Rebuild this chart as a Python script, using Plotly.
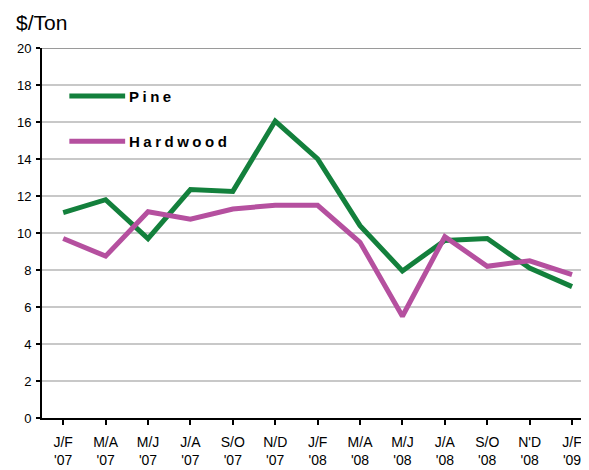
import plotly.graph_objects as go

categories = ["J/F<br>'07", "M/A<br>'07", "M/J<br>'07", "J/A<br>'07", "S/O<br>'07", "N/D<br>'07",
              "J/F<br>'08", "M/A<br>'08", "M/J<br>'08", "J/A<br>'08", "S/O<br>'08", "N'D<br>'08", "J/F<br>'09"]
pine = [11.1, 11.8, 9.7, 12.35, 12.25, 16.05, 14.0, 10.4, 7.95, 9.6, 9.7, 8.1, 7.1]
hardwood = [9.7, 8.75, 11.15, 10.75, 11.3, 11.5, 11.5, 9.5, 5.5, 9.8, 8.2, 8.5, 7.75]
y_ticks = [0, 2, 4, 6, 8, 10, 12, 14, 16, 18, 20]
series_names = ["Pine", "Hardwood"]
series_colors = ["#13803c", "#b5509f"]

FONT = "Liberation Sans, Arial, sans-serif"
x_idx = list(range(len(categories)))

fig = go.Figure()
for name, vals, col in zip(series_names, [pine, hardwood], series_colors):
    fig.add_trace(go.Scatter(x=x_idx, y=vals, mode="lines", name=name, showlegend=False,
                             line=dict(color=col, width=5)))

# white box behind legend hiding gridlines (between grid and traces)
fig.add_shape(type="rect", xref="paper", yref="y", x0=0.002, x1=0.402, y0=12.6, y1=19.6,
              fillcolor="white", line=dict(width=0), layer="between")
# darker top gridline
fig.add_shape(type="line", xref="paper", yref="y", x0=0, x1=1, y0=20, y1=20,
              line=dict(color="#9a9a9a", width=2), layer="between")

# custom legend (samples + labels) in paper coordinates
legend_y = [0.870, 0.748]
annotations = []
for name, col, ly in zip(series_names, series_colors, legend_y):
    fig.add_shape(type="line", xref="paper", yref="paper", x0=0.05, x1=0.152, y0=ly, y1=ly,
                  line=dict(color=col, width=5), layer="above")
    annotations.append(dict(text=name, xref="paper", yref="paper", x=0.155, y=ly,
                            xanchor="left", yanchor="middle", showarrow=False,
                            font=dict(family=FONT, size=15, color="black", weight="bold")))

annotations.append(dict(text="$/Ton", xref="paper", yref="paper", x=-0.052, y=1.07,
                        xanchor="left", yanchor="middle", showarrow=False,
                        font=dict(family=FONT, size=21, color="black")))

fig.update_layout(
    width=581, height=462,
    margin=dict(l=34, r=0, t=40, b=52),
    paper_bgcolor="white", plot_bgcolor="white",
    font=dict(family=FONT, color="black", size=13),
    showlegend=False,
    xaxis=dict(
        tickmode="array", tickvals=x_idx, ticktext=categories,
        range=[-0.5, 12.4], showgrid=False, zeroline=False,
        showline=True, linecolor="black", linewidth=2,
        ticks="outside", ticklen=5, tickwidth=2, tickcolor="black",
        tickson="boundaries", tickfont=dict(size=14), ticklabelstandoff=5,
    ),
    yaxis=dict(
        range=[0, 20], tickmode="array", tickvals=y_ticks,
        showgrid=True, gridcolor="#c8c8c8", gridwidth=2, zeroline=False,
        showline=True, linecolor="black", linewidth=2,
        ticks="outside", ticklen=4, tickwidth=2, tickcolor="black",
        tickfont=dict(size=13), ticklabelstandoff=2,
    ),
    annotations=annotations,
)

post = """
document.querySelectorAll('text.annotation-text').forEach(function(t){
  if (t.textContent === 'Pine' || t.textContent === 'Hardwood') {
    var b0 = t.getBBox();
    t.style.letterSpacing = '3.5px';
    var b1 = t.getBBox();
    var x = parseFloat(t.getAttribute('x') || '0');
    t.setAttribute('x', x + (b0.x - b1.x));
  }
});
"""
fig.write_html("out.html", post_script=post)
